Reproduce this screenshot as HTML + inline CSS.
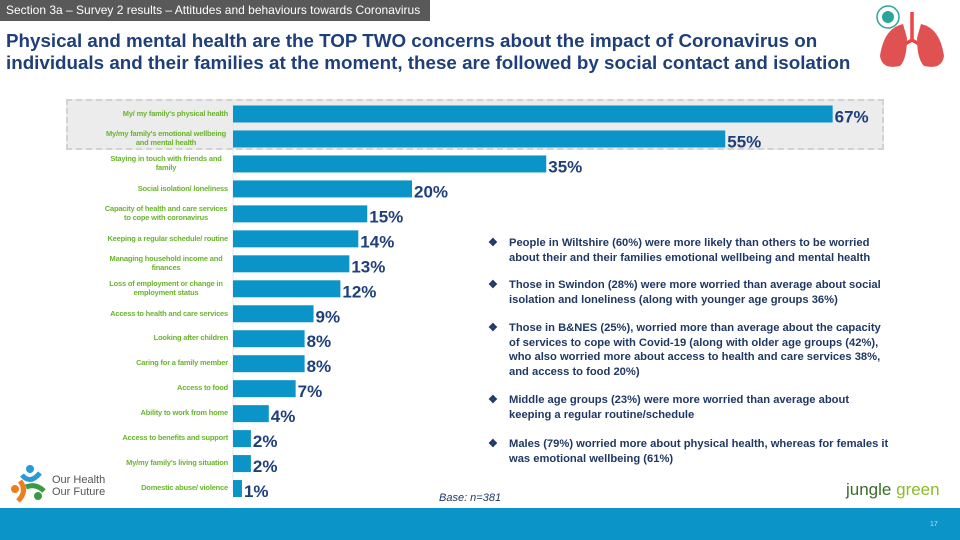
<!DOCTYPE html>
<html><head><meta charset="utf-8">
<style>
body{margin:0;width:960px;height:540px;overflow:hidden;background:#fff;font-family:"Liberation Sans",sans-serif;position:relative}
.abs{position:absolute}
#tag{left:0;top:0;width:430px;height:21px;background:#595959;color:#fff;font-size:12px;line-height:21px;padding-left:6px;box-sizing:border-box}
#title{left:6px;top:30px;width:855px;color:#1f3f7a;font-weight:bold;font-size:18.8px;line-height:22px}
#hl{left:66px;top:99px;width:818px;height:51px;background:#ececec;border:2px dashed #d2d2d2;box-sizing:border-box}
.notes{left:488px;color:#1f3864;font-weight:bold;font-size:11.2px;line-height:14.5px;width:422px}
.notes span.b{position:absolute;left:0;color:#1f3864}
.notes div.t{padding-left:21px}
#footer{left:0;top:508px;width:960px;height:32px;background:#0a94c8}
</style></head><body>
<div id="tag" class="abs">Section 3a – Survey 2 results – Attitudes and behaviours towards Coronavirus</div>
<div id="title" class="abs">Physical and mental health are the TOP TWO concerns about the impact of Coronavirus on individuals and their families at the moment, these are followed by social contact and isolation</div>
<div id="hl" class="abs"></div>

<svg class="abs" style="left:0;top:0" width="960" height="540">
<line x1="233" y1="102" x2="233" y2="492" stroke="#dbe9f3" stroke-width="1"/>
<g id="bars"></g>
</svg>

<div class="abs notes" style="top:236px"><span class="b">❖</span><div class="t">People in Wiltshire (60%) were more likely than others to be worried<br>about their and their families emotional wellbeing and mental health</div></div>
<div class="abs notes" style="top:278px"><span class="b">❖</span><div class="t">Those in Swindon (28%) were more worried than average about social<br>isolation and loneliness (along with younger age groups 36%)</div></div>
<div class="abs notes" style="top:321px"><span class="b">❖</span><div class="t">Those in B&amp;NES (25%), worried more than average about the capacity<br>of services to cope with Covid-19 (along with older age groups (42%),<br>who also worried more about access to health and care services 38%,<br>and access to food 20%)</div></div>
<div class="abs notes" style="top:393px"><span class="b">❖</span><div class="t">Middle age groups (23%) were more worried than average about<br>keeping a regular routine/schedule</div></div>
<div class="abs notes" style="top:437px"><span class="b">❖</span><div class="t">Males (79%) worried more about physical health, whereas for females it<br>was emotional wellbeing (61%)</div></div>

<div class="abs" style="left:439px;top:492px;font-size:11px;font-style:italic;color:#1f3864">Base: n=381</div>

<svg class="abs" style="left:8px;top:463px" width="42" height="42">
<circle cx="22" cy="6" r="4" fill="#2a9ad6"/><path d="M14 12 Q22 22 32 10" stroke="#2a9ad6" stroke-width="5" fill="none"/>
<circle cx="7" cy="26" r="4" fill="#ee7d1d"/><path d="M12 18 Q20 28 10 38" stroke="#ee7d1d" stroke-width="5" fill="none"/>
<circle cx="30" cy="33" r="4" fill="#3a9b47"/><path d="M18 24 Q28 20 36 28" stroke="#3a9b47" stroke-width="5" fill="none"/>
</svg>
<div class="abs" style="left:52px;top:474px;font-size:11px;line-height:12px;color:#555">Our Health<br>Our Future</div>

<svg class="abs" style="left:872px;top:2px" width="80" height="72">
<path d="M40 10 V38 M40 38 L26 46 M40 38 L54 46" stroke="#e44" stroke-width="3.5" fill="none"/>
<path d="M31 22 Q12 26 8 54 Q10 68 28 64 Q35 57 35 36 Z" fill="#e05252"/>
<path d="M49 22 Q68 26 72 54 Q70 68 52 64 Q45 57 45 36 Z" fill="#e05252"/>
<circle cx="16" cy="15" r="11" fill="#fff" stroke="#2aa59a" stroke-width="1.5"/><circle cx="16" cy="15" r="6" fill="#2aa59a"/>
</svg>

<div class="abs" style="left:846px;top:480px;font-size:17px;color:#3a6b2a">jungle <span style="color:#8dbb2a">green</span></div>
<div id="footer" class="abs"></div>
<div class="abs" style="left:930px;top:521px;font-size:7px;color:#cde">17</div>

<script>
const categories=["My/ my family's physical health","My/my family's emotional wellbeing and mental health","Staying in touch with friends and family","Social isolation/ loneliness","Capacity of health and care services to cope with coronavirus","Keeping a regular schedule/ routine","Managing household income and finances","Loss of employment or change in employment status","Access to health and care services","Looking after children","Caring for a family member","Access to food","Ability to work from home","Access to benefits and support","My/my family's living situation","Domestic abuse/ violence"];
const values=[67,55,35,20,15,14,13,12,9,8,8,7,4,2,2,1];
const valueLabels=["67%","55%","35%","20%","15%","14%","13%","12%","9%","8%","8%","7%","4%","2%","2%","1%"];
const x0=233,pxPer=8.95,y0=105.5,step=24.97,bh=17;
function xScale(v){return x0+v*pxPer;}
function yScale(i){return y0+i*step;}
const g=document.getElementById('bars');
const NS="http://www.w3.org/2000/svg";
categories.forEach((c,i)=>{
  const y=yScale(i);
  const r=document.createElementNS(NS,'rect');
  r.setAttribute('x',x0);r.setAttribute('y',y);r.setAttribute('width',xScale(values[i])-x0);r.setAttribute('height',bh);r.setAttribute('fill','#0a94c8');
  
  
  g.appendChild(r);
  const t=document.createElementNS(NS,'text');
  t.setAttribute('x',xScale(values[i])+2);t.setAttribute('y',y+bh);
  t.setAttribute('font-size','17');t.setAttribute('fill','#1f3f7a');t.setAttribute('font-weight','bold');t.setAttribute('font-family','Liberation Sans Narrow, Liberation Sans, sans-serif');
  t.textContent=valueLabels[i];
  
  
  g.appendChild(t);
  const fo=document.createElementNS(NS,'foreignObject');
  fo.setAttribute('x',104);fo.setAttribute('y',y-5);fo.setAttribute('width',124);fo.setAttribute('height',bh+10);
  const d=document.createElement('div');
  d.style.cssText='height:'+(bh+10)+'px;display:flex;align-items:center;justify-content:flex-end;text-align:center;font-size:7.5px;line-height:8.5px;color:#6ab42d;font-weight:bold;letter-spacing:-0.2px;font-family:Liberation Sans,sans-serif';
  d.textContent=c;
  fo.appendChild(d);
  
  
  g.appendChild(fo);
});
</script>
</body></html>
